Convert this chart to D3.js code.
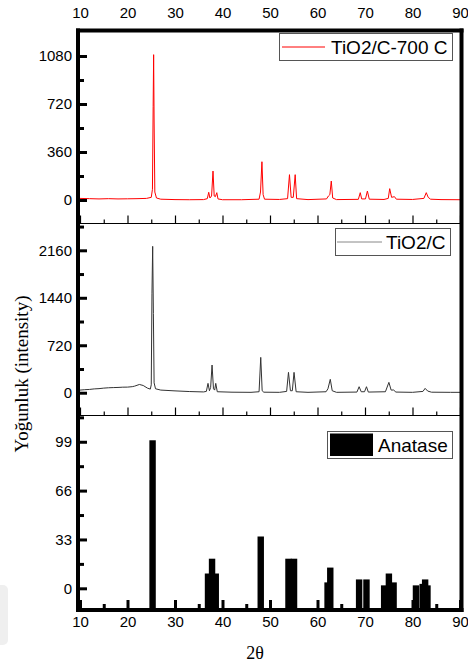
<!DOCTYPE html>
<html>
<head>
<meta charset="utf-8">
<script src="https://cdn.jsdelivr.net/npm/d3@7"></script>
<style>
  html, body { margin: 0; padding: 0; background: #fff; }
  svg { display: block; }
</style>
</head>
<body>
<svg id="chart" width="468" height="671"></svg>
<script>
// 2θ axis
const angleTicks = [10, 20, 30, 40, 50, 60, 70, 80, 90];
const angleMinorTicks = [15, 25, 35, 45, 55, 65, 75, 85];

// TiO2/C-700 C diffraction pattern (2θ, counts)
const calcinedAngle = [10, 12, 14, 16, 18, 20, 22, 24, 25.0, 25.25, 25.4, 25.5, 25.6, 25.75, 26.1, 27, 30, 33, 36,
  36.8, 37.1, 37.35, 37.7, 38.0, 38.25, 38.5, 38.8, 39.05, 40, 44, 47.7, 48.0, 48.3, 48.55, 48.85, 52, 53.7, 54.1,
  54.45, 54.9, 55.3, 55.6, 58, 61.9, 62.3, 62.6, 62.9, 63.2, 64, 68.6, 69.0, 69.3, 70.1, 70.5, 70.9, 74, 74.9,
  75.2, 75.6, 76.2, 76.6, 80, 82.4, 82.9, 83.3, 83.8, 86, 90];
const calcinedCounts = [12, 10, 8, 10, 8, 9, 10, 12, 20, 80, 700, 1090, 600, 60, 15, 6, 3, 2, 3,
  10, 58, 15, 30, 217, 30, 25, 55, 8, 2, 2, 6, 60, 287, 40, 6, 4, 10, 190,
  20, 20, 190, 10, 3, 8, 30, 40, 142, 15, 3, 5, 55, 8, 8, 67, 6, 4, 12,
  85, 20, 25, 6, 4, 12, 55, 20, 6, 3, 2];

// TiO2/C diffraction pattern (2θ, counts)
const compositeAngle = [10, 11, 12, 13, 14, 15, 16, 17, 18, 19, 20, 21, 21.5, 22.5, 23.3, 24.2, 24.8, 25.0, 25.15,
  25.3, 25.45, 25.6, 25.9, 27, 30, 33, 36, 36.6, 36.95, 37.25, 37.5, 37.8, 38.1, 38.35, 38.58, 38.9, 42, 46, 47.7,
  48.05, 48.35, 48.7, 52, 53.5, 53.89, 54.3, 54.7, 55.06, 55.5, 58, 61.8, 62.2, 62.69, 63.1, 64, 68.3, 68.76,
  69.2, 69.9, 70.31, 70.7, 74.3, 75.03, 75.5, 76.02, 76.5, 80, 82.2, 82.66, 83.2, 84, 88, 90];
const compositeCounts = [40, 46, 50, 58, 62, 70, 75, 78, 80, 84, 85, 92, 100, 125, 110, 70, 55, 120, 1500,
  2220, 1200, 150, 60, 40, 28, 18, 12, 20, 142, 30, 80, 420, 60, 40, 142, 15, 8, 6, 15,
  536, 30, 8, 6, 20, 309, 30, 30, 309, 15, 6, 15, 60, 203, 30, 6, 10, 91,
  15, 15, 91, 10, 15, 157, 40, 41, 10, 6, 20, 66, 25, 8, 6, 6];

// Anatase reference lines (2θ, relative intensity)
const anataseAngle = [25.28, 36.95, 37.80, 38.58, 48.05, 53.89, 55.06, 62.12, 62.69, 68.76, 70.31, 74.03, 75.03,
  76.02, 80.73, 82.14, 82.66, 83.15];
const anataseIntensity = [100, 10, 20, 10, 35, 20, 20, 4, 14, 6, 6, 2, 10, 4, 2, 3, 6, 2];
const barWidthDeg = 1.35;

// Intensity ticks of each panel
const calcinedTicks = [0, 360, 720, 1080];
const calcinedMinor = [180, 540, 900];
const compositeTicks = [0, 720, 1440, 2160];
const compositeMinor = [360, 1080, 1800, 2520];
const anataseTicks = [0, 33, 66, 99];
const anataseMinor = [16.5, 49.5, 82.5, 115.5];

const legendLabels = ["TiO2/C-700 C", "TiO2/C", "Anatase"];

const svg = d3.select("#chart");
const tickFont = "Liberation Sans, Arial, sans-serif";
const serifFont = "Liberation Serif, Times New Roman, serif";

const L = 80, R = 460, T = 32.5, B = 608;
const cut1 = 223.5, cut2 = 415.5;

const x = d3.scaleLinear().domain([10, 90]).range([L, R]);
const yTop = d3.scaleLinear().domain([-180, 1260]).range([224, 32]);
const yMid = d3.scaleLinear().domain([-353, 2559]).range([416, 224]);
const yBot = d3.scaleLinear().domain([-13.3, 116.4]).range([B, 416]);

// faint grey patch at the lower left edge
svg.append("rect").attr("x", -6).attr("y", 585).attr("width", 14).attr("height", 60)
  .attr("rx", 5).attr("fill", "#efefef");

const defs = svg.append("defs");
function clip(id, y0, y1) {
  defs.append("clipPath").attr("id", id).append("rect")
    .attr("x", L).attr("y", y0).attr("width", R - L).attr("height", y1 - y0);
}
clip("clipTop", T, cut1);
clip("clipMid", cut1, cut2);
clip("clipBot", cut2, B);

// patterns
const topPts = calcinedAngle.map((a, i) => [a, calcinedCounts[i]]);
const midPts = compositeAngle.map((a, i) => [a, compositeCounts[i]]);

svg.append("path").datum(topPts)
  .attr("clip-path", "url(#clipTop)")
  .attr("fill", "none").attr("stroke", "#ff0000").attr("stroke-width", 1)
  .attr("d", d3.line().x(d => x(d[0])).y(d => yTop(d[1])));

svg.append("path").datum(midPts)
  .attr("clip-path", "url(#clipMid)")
  .attr("fill", "none").attr("stroke", "#333").attr("stroke-width", 1)
  .attr("d", d3.line().x(d => x(d[0])).y(d => yMid(d[1])));

// reference bars, standing on the bottom of the panel
svg.append("g").attr("clip-path", "url(#clipBot)")
  .selectAll("rect").data(anataseAngle).join("rect")
  .attr("x", a => x(a - barWidthDeg / 2))
  .attr("width", a => x(a + barWidthDeg / 2) - x(a - barWidthDeg / 2))
  .attr("y", (a, i) => yBot(anataseIntensity[i]))
  .attr("height", (a, i) => B - yBot(anataseIntensity[i]))
  .attr("fill", "#000");

// axis helpers
function styleAxis(g, width) {
  g.select(".domain").remove();
  g.selectAll(".tick line").attr("stroke", "#000").attr("stroke-width", width);
  g.selectAll(".tick text").attr("fill", "#000")
    .style("font-family", tickFont).style("font-size", "15px");
}

function leftAxis(scale, major, minor) {
  svg.append("g").attr("transform", `translate(${L},0)`)
    .call(d3.axisLeft(scale).tickValues(major).tickSize(-7).tickPadding(8).tickFormat(d3.format("d")))
    .call(g => styleAxis(g, 3));
  svg.append("g").attr("transform", `translate(${L},0)`)
    .call(d3.axisLeft(scale).tickValues(minor).tickSize(-4).tickFormat(""))
    .call(g => styleAxis(g, 3));
}
leftAxis(yTop, calcinedTicks, calcinedMinor);
leftAxis(yMid, compositeTicks, compositeMinor);
leftAxis(yBot, anataseTicks, anataseMinor);

// panel separators with upward ticks
[cut1, cut2].forEach(yy => {
  svg.append("line").attr("x1", L).attr("x2", R).attr("y1", yy).attr("y2", yy)
    .attr("stroke", "#000").attr("stroke-width", 1.2);
  svg.append("g").attr("transform", `translate(0,${yy})`)
    .call(d3.axisBottom(x).tickValues(angleTicks).tickSize(-8).tickFormat(""))
    .call(g => styleAxis(g, 1.2));
  svg.append("g").attr("transform", `translate(0,${yy})`)
    .call(d3.axisBottom(x).tickValues(angleMinorTicks).tickSize(-4).tickFormat(""))
    .call(g => styleAxis(g, 1.2));
});

// bottom axis
svg.append("g").attr("transform", `translate(0,${B})`)
  .call(d3.axisBottom(x).tickValues(angleTicks).tickSize(-8).tickPadding(8))
  .call(g => styleAxis(g, 3));
svg.append("g").attr("transform", `translate(0,${B})`)
  .call(d3.axisBottom(x).tickValues(angleMinorTicks).tickSize(-4).tickFormat(""))
  .call(g => styleAxis(g, 3));

// top axis (labels only)
svg.append("g").attr("transform", `translate(0,30.5)`)
  .call(d3.axisTop(x).tickValues(angleTicks).tickSize(0).tickPadding(12.5))
  .call(g => styleAxis(g, 0));

// frame
const frame = svg.append("g").attr("stroke", "#000").attr("stroke-width", 4);
frame.append("line").attr("x1", 78).attr("x2", 78).attr("y1", 28.5).attr("y2", 612);
frame.append("line").attr("x1", 461.5).attr("x2", 461.5).attr("y1", 28.5).attr("y2", 612);
frame.append("line").attr("x1", 76).attr("x2", 463.5).attr("y1", 30.5).attr("y2", 30.5);
frame.append("line").attr("x1", 76).attr("x2", 463.5).attr("y1", 610).attr("y2", 610);

// legends
function legendBox(x0, y0, w, h) {
  return svg.append("rect").attr("x", x0).attr("y", y0).attr("width", w).attr("height", h)
    .attr("fill", "#fff").attr("stroke", "#555").attr("stroke-width", 1);
}
function legendText(x0, yc, label) {
  svg.append("text").attr("x", x0).attr("y", yc).attr("dy", "0.35em")
    .style("font-family", tickFont).style("font-size", "19px").attr("fill", "#000").text(label);
}
legendBox(279.5, 33.5, 173, 27);
svg.append("line").attr("x1", 282).attr("x2", 325).attr("y1", 47).attr("y2", 47)
  .attr("stroke", "#ff0000").attr("stroke-width", 1);
legendText(331, 47.5, legendLabels[0]);

legendBox(335.5, 228.5, 115, 27);
svg.append("line").attr("x1", 337).attr("x2", 382).attr("y1", 242).attr("y2", 242)
  .attr("stroke", "#888").attr("stroke-width", 1);
legendText(386, 242.5, legendLabels[1]);

legendBox(327.5, 431.5, 125, 27);
svg.append("rect").attr("x", 330).attr("y", 433.5).attr("width", 43).attr("height", 22.5).attr("fill", "#000");
legendText(378, 445, legendLabels[2]);

// axis titles
svg.append("text")
  .attr("transform", "translate(28,374) rotate(-90)")
  .attr("text-anchor", "middle")
  .style("font-family", serifFont).style("font-size", "19px").attr("fill", "#000")
  .text("Yoğunluk (intensity)");

svg.append("text")
  .attr("x", 255).attr("y", 659).attr("text-anchor", "middle")
  .style("font-family", serifFont).style("font-size", "18px").attr("fill", "#000")
  .text("2θ");
</script>
</body>
</html>
